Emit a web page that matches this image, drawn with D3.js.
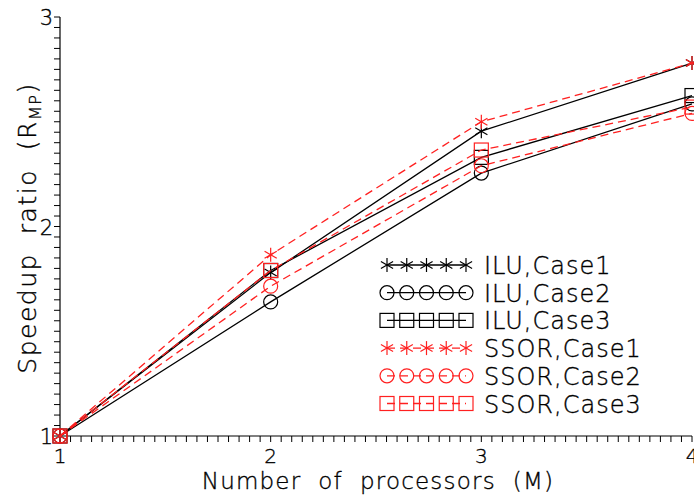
<!DOCTYPE html>
<html>
<head>
<meta charset="utf-8">
<script src="https://cdn.jsdelivr.net/npm/d3@7"></script>
<style>
html,body{margin:0;padding:0;background:#fff;}
svg text{font-family:"DejaVu Sans","Open Sans",sans-serif;font-weight:300;stroke:#000;stroke-width:0.35px;}
</style>
</head>
<body>
<svg id="chart" width="694" height="495"></svg>
<script>
const processors = [1, 2, 3, 4];
const iluCase1  = [1, 1.78, 2.455, 2.78];
const iluCase2  = [1, 1.64, 2.255, 2.585];
const iluCase3  = [1, 1.79, 2.33, 2.625];
const ssorCase1 = [1, 1.865, 2.50, 2.78];
const ssorCase2 = [1, 1.715, 2.29, 2.54];
const ssorCase3 = [1, 1.79, 2.365, 2.57];
const seriesNames = ["ILU,Case1","ILU,Case2","ILU,Case3","SSOR,Case1","SSOR,Case2","SSOR,Case3"];
const xTickLabels = ["1","2","3","4"];
const yTickLabels = ["1","2","3"];

const series = [
  {name: seriesNames[0], values: iluCase1, color: "#000", dash: null, marker: "star"},
  {name: seriesNames[1], values: iluCase2, color: "#000", dash: null, marker: "circle"},
  {name: seriesNames[2], values: iluCase3, color: "#000", dash: null, marker: "square"},
  {name: seriesNames[3], values: ssorCase1, color: "#ff2020", dash: "8,5", marker: "star"},
  {name: seriesNames[4], values: ssorCase2, color: "#ff2020", dash: "8,5", marker: "circle"},
  {name: seriesNames[5], values: ssorCase3, color: "#ff2020", dash: "8,5", marker: "square"}
];

const svg = d3.select("#chart");
const L = 60, R = 692, T = 17, B = 436;
const x = d3.scaleLinear().domain([1,4]).range([L,R]);
const y = d3.scaleLinear().domain([1,3]).range([B,T]);

// minor ticks
const xMinor = d3.range(1, 4.0001, 0.05);
const yMinor = d3.range(1, 3.0001, 0.05);
svg.append("g").selectAll("line").data(xMinor).join("line")
  .attr("x1", d=>x(d)).attr("x2", d=>x(d)).attr("y1", B).attr("y2", B+6)
  .attr("stroke","#000").attr("stroke-width",1);
svg.append("g").selectAll("line").data(yMinor).join("line")
  .attr("x1", L-6).attr("x2", L).attr("y1", d=>y(d)).attr("y2", d=>y(d))
  .attr("stroke","#000").attr("stroke-width",1);

// axis lines
svg.append("line").attr("x1",L).attr("x2",R).attr("y1",B).attr("y2",B).attr("stroke","#000").attr("stroke-width",1.2);
svg.append("line").attr("x1",L).attr("x2",L).attr("y1",T).attr("y2",B).attr("stroke","#000").attr("stroke-width",1.2);

// tick labels
svg.append("g").selectAll("text").data(xTickLabels).join("text")
  .attr("x", d=>x(+d)).attr("y", B+27).attr("text-anchor","middle")
  .attr("font-size",20).attr("fill","#000").text(d=>d);
svg.append("g").selectAll("text").data(yTickLabels).join("text")
  .attr("x", L-7).attr("y", d=>y(+d)+8).attr("text-anchor","end")
  .attr("font-size",21).attr("fill","#000").text(d=>d);

// axis titles
svg.append("text").attr("x", 378).attr("y", 489).attr("text-anchor","middle")
  .attr("font-size",23).attr("letter-spacing","1.2px").attr("fill","#000").attr("xml:space","preserve")
  .text("Number  of  processors  (M)");
const yl = svg.append("text").attr("transform","translate(36,228) rotate(-90)")
  .attr("text-anchor","middle").attr("font-size",25).attr("letter-spacing","1.5px").attr("fill","#000").attr("xml:space","preserve");
yl.append("tspan").text("Speedup  ratio  (R");
yl.append("tspan").attr("font-size",16).attr("dy",5).text("MP");
yl.append("tspan").attr("dy",-5).text(")");

function drawMarker(g, type, cx, cy, color){
  const s = 7;
  if(type==="circle"){
    g.append("circle").attr("cx",cx).attr("cy",cy).attr("r",s).attr("fill","none").attr("stroke",color).attr("stroke-width",1.2);
  } else if(type==="square"){
    g.append("rect").attr("x",cx-s).attr("y",cy-s).attr("width",2*s).attr("height",2*s).attr("fill","none").attr("stroke",color).attr("stroke-width",1.2);
  } else {
    const d = s*0.87, e = s*0.5;
    const segs = [[0,-s,0,s],[-d,-e,d,e],[-d,e,d,-e]];
    segs.forEach(q=>g.append("line").attr("x1",cx+q[0]).attr("y1",cy+q[1]).attr("x2",cx+q[2]).attr("y2",cy+q[3]).attr("stroke",color).attr("stroke-width",1.2));
  }
}

const line = d3.line().x((d,i)=>x(processors[i])).y(d=>y(d));
series.forEach(s=>{
  svg.append("path").datum(s.values).attr("d",line).attr("fill","none")
    .attr("stroke",s.color).attr("stroke-width",1.3).attr("stroke-dasharray",s.dash);
  const g = svg.append("g");
  s.values.forEach((v,i)=>drawMarker(g, s.marker, x(processors[i]), y(v), s.color));
});

// legend
const legY0 = 265, legDy = 27.7, legX0 = 387, legX1 = 466;
series.forEach((s,k)=>{
  const ly = legY0 + k*legDy;
  svg.append("line").attr("x1",legX0).attr("x2",legX1).attr("y1",ly).attr("y2",ly)
    .attr("stroke",s.color).attr("stroke-width",1.3).attr("stroke-dasharray",s.dash);
  const g = svg.append("g");
  d3.range(5).forEach(j=>drawMarker(g, s.marker, legX0 + j*(legX1-legX0)/4, ly, s.color));
  svg.append("text").attr("x",484).attr("y",ly+9).attr("font-size",24).attr("letter-spacing","1px").attr("fill","#000").text(s.name);
});
</script>
</body>
</html>
